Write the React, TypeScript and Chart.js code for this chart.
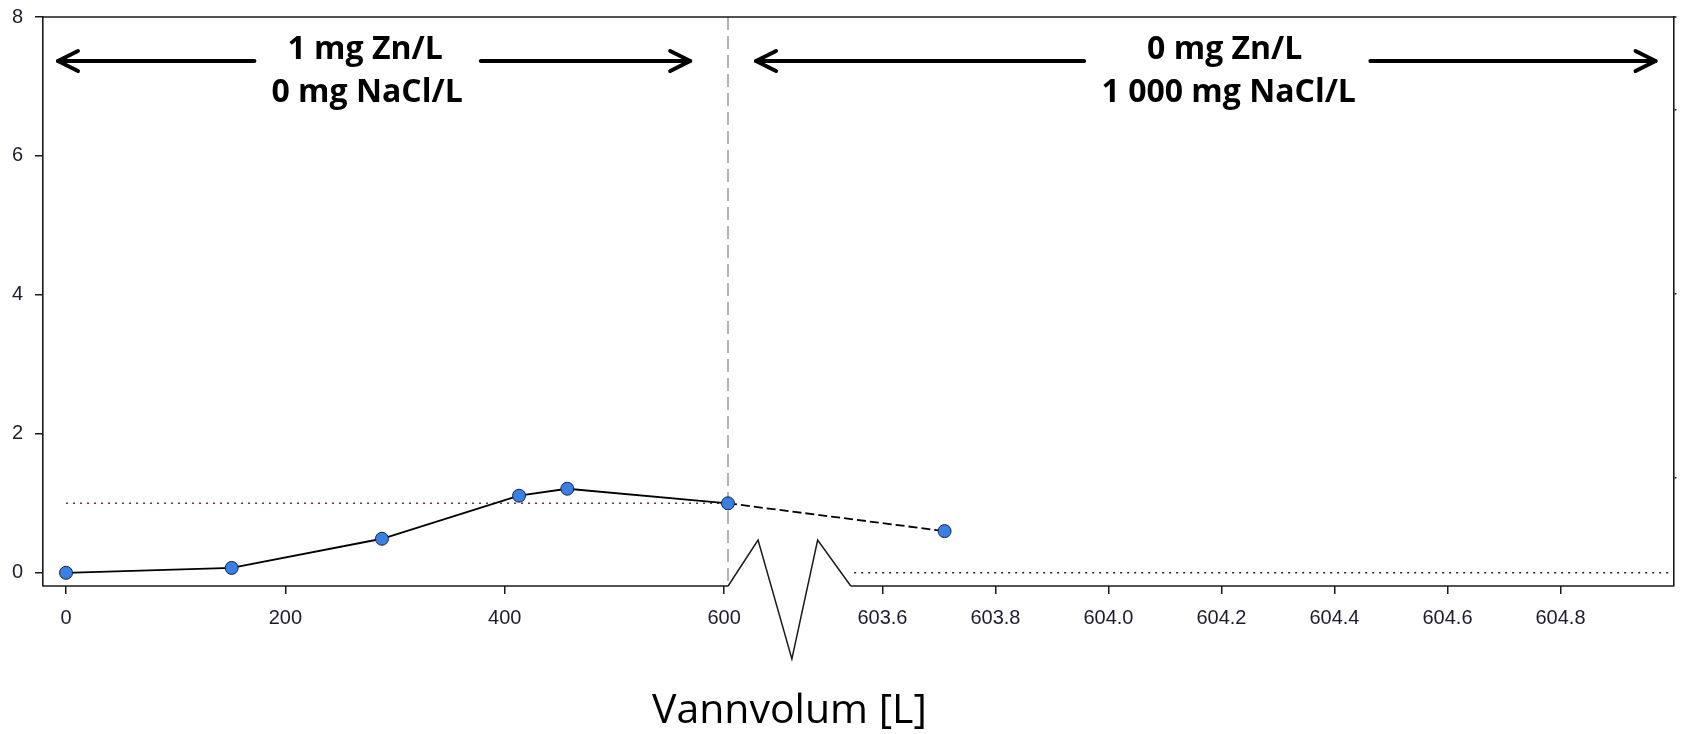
import { useEffect, useRef } from "react";
import { Chart, registerables } from "chart.js";

Chart.register(...registerables);

// ---------- data ----------
const VOLUME_L = [0, 151, 288, 413, 457, 603.5, 603.71];
const ZN_MG_L = [0.0, 0.07, 0.49, 1.11, 1.21, 1.0, 0.6];

const LIMIT_X = [0, 603.5];
const LIMIT_Y = [1, 1];
const BASE_X = [603.55, 605.0];
const BASE_Y = [0, 0];
const SWITCH_X = [603.5, 603.5];
const SWITCH_Y = [8, -0.19];

const Y_TICKS = [0, 2, 4, 6, 8];
const Y2_TICKS = [0, 1, 2];
const X_TICKS_LEFT = [0, 200, 400, 600];
const X_TICKS_RIGHT = [603.6, 603.8, 604.0, 604.2, 604.4, 604.6, 604.8];
const X_TICK_LABELS = ["0", "200", "400", "600", "603.6", "603.8", "604.0", "604.2", "604.4", "604.6", "604.8"];

const PHASE_TEXT_LEFT = ["1 mg Zn/L", "0 mg NaCl/L"];
const PHASE_TEXT_RIGHT = ["0 mg Zn/L", "1 000 mg NaCl/L"];
const X_TITLE = "Vannvolum [L]";

// ---------- broken axis layout ----------
const SEG_L = { v0: -21, v1: 603.6, u0: 0, u1: 687 };
const SEG_R = { v0: 603.544, v1: 605.0, u0: 810, u1: 1635 };
const AXIS_MAX = 1635;

function toAxis(v: number): number {
  const s = v < SEG_R.v0 ? SEG_L : SEG_R;
  return s.u0 + ((v - s.v0) / (s.v1 - s.v0)) * (s.u1 - s.u0);
}

const pts = (xs: number[], ys: number[]) => xs.map((v, i) => ({ x: toAxis(v), y: ys[i] }));

const TICK_FONT = { family: '"Liberation Sans", Arial, sans-serif', size: 20 };
const TICK_COLOR = "#1c1c2e";

const decorPlugin = {
  id: "decor",
  afterDraw(chart: any) {
    const { ctx, chartArea: ca, scales } = chart;
    const x = scales.x;
    const gapL = x.getPixelForValue(SEG_L.u1);
    const gapR = x.getPixelForValue(SEG_R.u0);
    const u = (val: number) => x.getPixelForValue(val);
    ctx.save();
    ctx.strokeStyle = "#1a1a1a";
    ctx.lineWidth = 1.6;
    const line = (x0: number, y0: number, x1: number, y1: number) => {
      ctx.beginPath();
      ctx.moveTo(x0, y0);
      ctx.lineTo(x1, y1);
      ctx.stroke();
    };
    // frame
    line(ca.left, ca.bottom, gapL, ca.bottom);
    line(gapR, ca.bottom, ca.right, ca.bottom);
    line(ca.left, ca.top, ca.right + 3, ca.top);
    // zigzag break
    const w = gapR - gapL;
    ctx.lineWidth = 1.5;
    ctx.beginPath();
    ctx.moveTo(gapL, ca.bottom);
    ctx.lineTo(gapL + 0.244 * w, ca.bottom - 46);
    ctx.lineTo(gapL + 0.52 * w, ca.bottom + 73);
    ctx.lineTo(gapL + 0.73 * w, ca.bottom - 46);
    ctx.lineTo(gapR, ca.bottom);
    ctx.stroke();

    // arrows
    const arrowY = 61;
    const arrow = (tail: number, head: number) => {
      const dir = head > tail ? 1 : -1;
      ctx.strokeStyle = "#000";
      ctx.lineWidth = 4;
      ctx.lineCap = "round";
      ctx.lineJoin = "round";
      line(tail, arrowY, head, arrowY);
      ctx.beginPath();
      ctx.moveTo(head - dir * 20, arrowY - 10);
      ctx.lineTo(head, arrowY);
      ctx.lineTo(head - dir * 20, arrowY + 10);
      ctx.stroke();
    };
    arrow(u(212), u(15));
    arrow(u(439), u(649));
    arrow(u(1044), u(715));
    arrow(u(1331), u(1617));

    // phase labels
    ctx.fillStyle = "#000";
    ctx.textAlign = "center";
    ctx.textBaseline = "alphabetic";
    ctx.font = 'bold 32px "Open Sans", sans-serif';
    ctx.fillText(PHASE_TEXT_LEFT[0], u(323), 59);
    ctx.fillText(PHASE_TEXT_LEFT[1], u(325), 102);
    ctx.fillText(PHASE_TEXT_RIGHT[0], u(1185), 59);
    ctx.fillText(PHASE_TEXT_RIGHT[1], u(1189), 102);

    // x title centred on the break
    ctx.font = '41px "Open Sans", sans-serif';
    ctx.fillText(X_TITLE, (gapL + gapR) / 2, 723);
    ctx.restore();
  },
};

export default function App() {
  const ref = useRef<HTMLCanvasElement | null>(null);

  useEffect(() => {
    if (!ref.current) return;
    const chart = new Chart(ref.current, {
      type: "scatter",
      data: {
        datasets: [
          {
            label: "Zn",
            data: pts(VOLUME_L, ZN_MG_L),
            showLine: true,
            borderColor: "#000",
            borderWidth: 1.8,
            pointRadius: 6.5,
            pointBackgroundColor: "#3a7ee8",
            pointBorderColor: "#14233f",
            pointBorderWidth: 1,
            segment: {
              borderDash: (c: any) => (c.p0DataIndex === 5 ? [9, 4] : undefined),
            },
            order: 0,
          },
          {
            label: "limit",
            data: pts(LIMIT_X, LIMIT_Y),
            showLine: true,
            borderColor: "#7a2c2c",
            borderWidth: 1.6,
            borderDash: [2, 5],
            pointRadius: 0,
            order: 2,
          },
          {
            label: "base",
            data: pts(BASE_X, BASE_Y),
            showLine: true,
            borderColor: "#222",
            borderWidth: 1.6,
            borderDash: [2, 5],
            pointRadius: 0,
            order: 2,
          },
          {
            label: "switch",
            data: pts(SWITCH_X, SWITCH_Y),
            showLine: true,
            borderColor: "#9a9a9a",
            borderWidth: 1.5,
            borderDash: [13, 6],
            pointRadius: 0,
            order: 3,
          },
        ],
      },
      options: {
        animation: false,
        responsive: false,
        devicePixelRatio: 1,
        layout: { padding: { top: 17, left: 0, right: 0, bottom: 0 } },
        plugins: { legend: { display: false }, tooltip: { enabled: false } },
        scales: {
          x: {
            type: "linear",
            min: 0,
            max: AXIS_MAX,
            afterBuildTicks: (s: any) => {
              s.ticks = [...X_TICKS_LEFT, ...X_TICKS_RIGHT].map((v) => ({ value: toAxis(v) }));
            },
            afterFit: (s: any) => {
              s.height = 148;
              s.paddingLeft = 0;
              s.paddingRight = 0;
            },
            grid: { drawOnChartArea: false, drawTicks: true, tickLength: 8, color: "#1a1a1a", lineWidth: 1.5 },
            border: { display: false },
            ticks: {
              autoSkip: false,
              maxRotation: 0,
              padding: 12,
              color: TICK_COLOR,
              font: TICK_FONT,
              callback: (_v: any, i: number) => X_TICK_LABELS[i],
            },
          },
          y: {
            type: "linear",
            position: "left",
            min: -0.19,
            max: 8,
            afterBuildTicks: (s: any) => {
              s.ticks = Y_TICKS.map((v) => ({ value: v }));
            },
            afterFit: (s: any) => {
              s.width = 43;
              s.paddingTop = 0;
              s.paddingBottom = 0;
            },
            grid: { drawOnChartArea: false, drawTicks: true, tickLength: 8, color: "#1a1a1a", lineWidth: 1.5 },
            border: { display: true, color: "#1a1a1a", width: 1.6 },
            ticks: { padding: 12, color: TICK_COLOR, font: TICK_FONT },
          },
          y2: {
            type: "linear",
            position: "right",
            min: -0.587,
            max: 2.505,
            afterBuildTicks: (s: any) => {
              s.ticks = Y2_TICKS.map((v) => ({ value: v }));
            },
            afterFit: (s: any) => {
              s.width = 3;
              s.paddingTop = 0;
              s.paddingBottom = 0;
            },
            grid: { drawOnChartArea: false, drawTicks: true, tickLength: 3, color: "#1a1a1a", lineWidth: 1.5 },
            border: { display: true, color: "#1a1a1a", width: 1.6 },
            ticks: { display: false },
          },
        },
      },
      plugins: [decorPlugin],
    } as any);
    return () => chart.destroy();
  }, []);

  return (
    <div style={{ position: "fixed", left: 0, top: 0, width: 1681, height: 734, background: "#fff" }}>
      <canvas ref={ref} width={1681} height={734} style={{ display: "block" }} />
    </div>
  );
}
